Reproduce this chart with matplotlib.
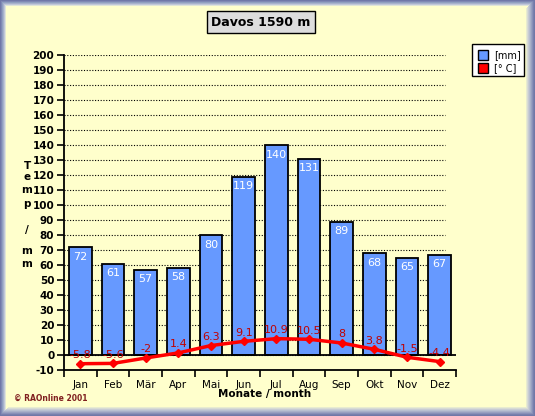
import matplotlib
matplotlib.use("Agg")
import matplotlib.pyplot as plt
from matplotlib.patches import Rectangle
import matplotlib.transforms as mtransforms
import numpy as np

months = ["Jan", "Feb", "Mär", "Apr", "Mai", "Jun", "Jul", "Aug", "Sep", "Okt", "Nov", "Dez"]
precip = [72, 61, 57, 58, 80, 119, 140, 131, 89, 68, 65, 67]
temp = [-5.8, -5.6, -2, 1.4, 6.3, 9.1, 10.9, 10.5, 8, 3.8, -1.5, -4.4]
temp_labels = ["-5.8", "-5.6", "-2", "1.4", "6.3", "9.1", "10.9", "10.5", "8", "3.8", "-1.5", "-4.4"]
yticks = list(range(-10, 201, 10))

W, H = 535, 416
fig = plt.figure(figsize=(W / 100, H / 100), dpi=100)
fig.patch.set_facecolor("#FFFFCC")

def frect(x0, y0, w, h, **kw):
    # pixel coords with y from top
    fig.patches.append(Rectangle((x0 / W, 1 - (y0 + h) / H), w / W, h / H,
                                 transform=fig.transFigure, **kw))

# bevel frame (gradient strips)
left_cols = ["#7078A8", "#8088B4", "#90A0C0", "#A8B0CC", "#C0C8D8", "#E0E4D8"]
for i, c in enumerate(left_cols):
    frect(i, i, 1, H - 2 * i, facecolor=c, edgecolor="none", zorder=0)
    frect(i, i, W - 2 * i, 1, facecolor=c, edgecolor="none", zorder=0)
right_cols = ["#7078A8", "#7880AC", "#8890B8", "#98A0C0", "#A8B0C8", "#B8C0D0", "#C8CCD4", "#D8DCD4", "#E8ECD0"]
for i, c in enumerate(right_cols):
    frect(W - 1 - i, i, 1, H - 2 * i, facecolor=c, edgecolor="none", zorder=0)
    frect(i, H - 1 - i, W - 2 * i, 1, facecolor=c, edgecolor="none", zorder=0)

ax = fig.add_axes([64 / W, 46 / H, 392 / W, 315 / H])
ax.set_facecolor("none")
x = np.arange(len(months))

ax.set_xlim(-0.5, 11.5)
ax.set_ylim(-10, 200)
ax.set_yticks(yticks)
ax.set_yticklabels([str(v) for v in yticks], fontsize=7.5, fontweight="bold")

trans = mtransforms.blended_transform_factory(ax.transAxes, ax.transData)
ax.hlines(yticks[1:], 0, 381 / 392, transform=trans, colors="black",
          linestyles=(0, (1, 1.5)), linewidth=0.8, zorder=1)

ax.bar(x, precip, width=0.7, color="#6699FF", edgecolor="black", linewidth=1.3, zorder=2)
for xi, v in zip(x, precip):
    ax.text(xi, v - 3, str(v), color="white", ha="center", va="top", fontsize=8, zorder=3)

ax.axhline(0, color="black", linewidth=1.3, zorder=2.5)
ax.plot(x, temp, color="#FF0000", linewidth=2.5, marker="D", markersize=4.5, zorder=4)
for xi, v, lab in zip(x, temp, temp_labels):
    ax.text(xi, v + 2.5, lab, color="#C00000", ha="center", va="bottom", fontsize=8, zorder=5)

for s in ["top", "right"]:
    ax.spines[s].set_visible(False)
for s in ["left", "bottom"]:
    ax.spines[s].set_linewidth(1.3)

ax.set_xticks(x)
ax.set_xticklabels(months, fontsize=7.5)
ax.tick_params(axis="x", length=0, pad=7)
ax.set_xticks(np.arange(-0.5, 12, 1), minor=True)
ax.tick_params(axis="x", which="minor", length=5, width=1.2, direction="out")
ax.tick_params(axis="y", length=5, width=1.2, direction="out", pad=2)

# title box
fig.text(261 / W, 1 - 22 / H, "Davos 1590 m", ha="center", va="center",
         fontsize=9, fontweight="bold",
         bbox=dict(boxstyle="square,pad=0.35", facecolor="#DDDDDD", edgecolor="black", linewidth=1))

# y label stacked
ylab = ["T", "e", "m", "p", "/", "m", "m"]
ypos = [166, 177, 190, 204, 230, 251, 264]
for ch, yy in zip(ylab, ypos):
    fig.text(27 / W, 1 - yy / H, ch, ha="center", va="center",
             fontsize=7.5, fontweight="bold")

fig.text(265 / W, 1 - 394 / H, "Monate / month", ha="center", va="center",
         fontsize=7.5, fontweight="bold")
fig.text(14 / W, 1 - 398 / H, "© RAOnline 2001", ha="left", va="center",
         fontsize=5.5, fontweight="bold", color="#802020")

# legend
frect(472, 44, 52, 32, facecolor="white", edgecolor="black", linewidth=1, zorder=3)
for j, (c, lab) in enumerate([("#6699FF", "[mm]"), ("#FF0000", "[° C]")]):
    yy = 44 + 11 + j * 13
    frect(478, yy - 5, 10, 10, facecolor=c, edgecolor="black", linewidth=1, zorder=4)
    fig.text(494 / W, 1 - yy / H, lab, ha="left", va="center", fontsize=7, zorder=5)

fig.savefig("out.png", dpi=100, facecolor=fig.get_facecolor())
